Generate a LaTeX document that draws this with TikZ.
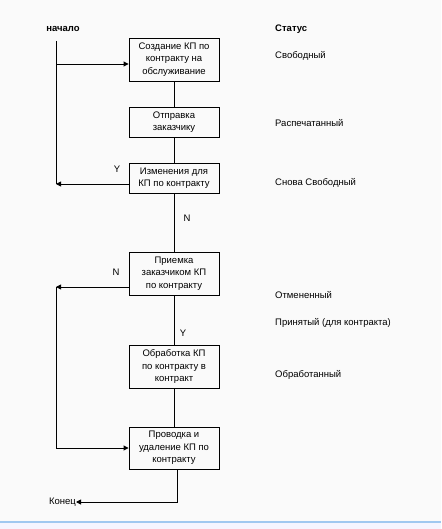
\documentclass[tikz,border=0pt]{standalone}
\usepackage{fontspec}
\setmainfont{Liberation Sans}
\usetikzlibrary{arrows.meta}
\begin{document}
\begin{tikzpicture}[x=1pt,y=-1pt,
  font=\fontsize{9.5}{12.5}\selectfont,
  stepbox/.style={draw,line width=0.9pt,minimum width=90pt,inner sep=1pt,align=center},
  conn/.style={line width=0.9pt},
  arr/.style={line width=0.9pt,-{Triangle[length=5pt,width=5pt]}},
  lbl/.style={inner sep=0pt},
  stat/.style={inner sep=0pt,anchor=west}]
\fill[white!98!black] (0,0) rectangle (441,529);
\useasboundingbox (0,0) rectangle (441,529);
\fill[blue!4] (0,522) rectangle (441,529);
\draw[line width=1.2pt,color={rgb,255:red,160;green,200;blue,240}] (0,522) -- (441,522);

\node[stepbox,minimum height=43pt] (b1) at (174,59.5) {Создание КП по\\контракту на\\обслуживание};
\node[stepbox,minimum height=30pt] (b2) at (174,122) {Отправка\\заказчику};
\node[stepbox,minimum height=30pt] (b3) at (174,178) {Изменения для\\КП по контракту};
\node[stepbox,minimum height=43pt] (b4) at (174,273.5) {Приемка\\заказчиком КП\\по контракту};
\node[stepbox,minimum height=43pt] (b5) at (174,366.5) {Обработка КП\\по контракту в\\контракт};
\node[stepbox,minimum height=42pt] (b6) at (174,448) {Проводка и\\удаление КП по\\контракту};

\node[lbl,font=\fontsize{9.5}{12}\selectfont\bfseries] (start) at (63,29) {начало};
\node[lbl,font=\fontsize{9.5}{12}\selectfont\bfseries,anchor=west] (status) at (275,29) {Статус};
\node[lbl,anchor=east] (end) at (76,502) {Конец};

\coordinate (t1) at (56,41);
\coordinate (t2) at (56,184);
\coordinate (t3) at (56,287);
\coordinate (t4) at (56,448);
\coordinate (e1) at (177,502);

\draw[conn] (t1) -- (t2);
\draw[arr] (56,64) -- (b1.west |- 0,64);
\draw[arr] (b3.west |- t2) -- (t2);
\draw[conn] (b1) -- (b2);
\draw[conn] (b2) -- (b3);
\draw[conn] (b3) -- (b4);
\draw[conn] (b4) -- (b5);
\draw[conn] (b5) -- (b6);
\draw[arr] (b4.west |- t3) -- (t3);
\draw[conn] (t3) -- (t4);
\draw[arr] (t4) -- (b6.west |- t4);
\draw[arr] (b6.south -| e1) -- (e1) -- (end.east);

\node[lbl] (y1) at (117,169) {Y};
\node[lbl] (n1) at (187,218) {N};
\node[lbl] (n2) at (116,272) {N};
\node[lbl] (y2) at (183,333) {Y};

\node[stat] (s1) at (275,56) {Свободный};
\node[stat] (s2) at (275,123) {Распечатанный};
\node[stat] (s3) at (275,183) {Снова Свободный};
\node[stat] (s4) at (275,295) {Отмененный};
\node[stat] (s5) at (275,323) {Принятый (для контракта)};
\node[stat] (s6) at (275,375) {Обработанный};
\end{tikzpicture}
\end{document}
